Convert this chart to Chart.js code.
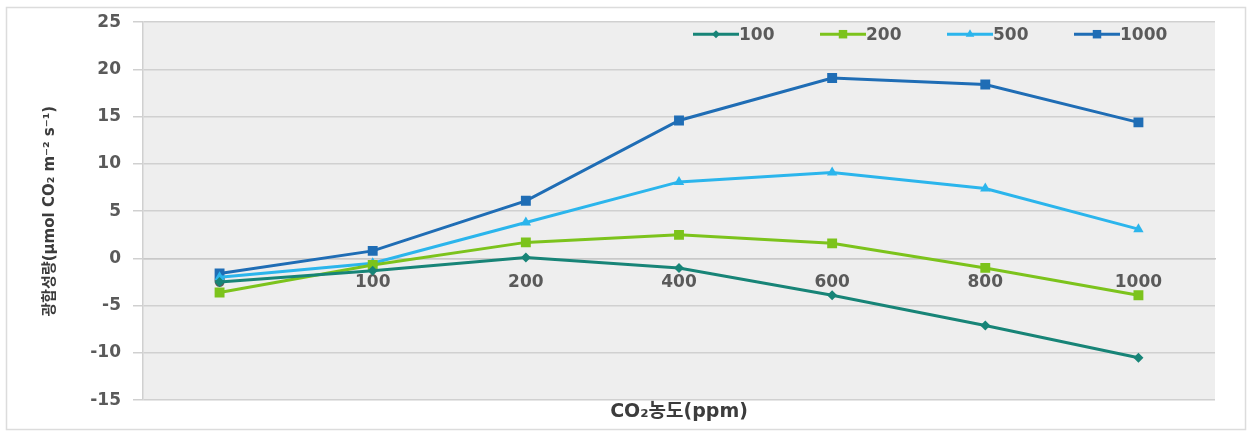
<!DOCTYPE html>
<html>
<head>
<meta charset="utf-8">
<script src="https://cdn.jsdelivr.net/npm/chart.js@4"></script>
<style>
	html, body { margin: 0; padding: 0; background: #fff; }
	#wrap { width: 1251px; height: 434px; }
</style>
</head>
<body>
<div id="wrap"><canvas id="chart" width="1251" height="434"></canvas></div>
<script>
'use strict';
const categories = ['0', '100', '200', '400', '600', '800', '1000'];
const seriesNames = ['100', '200', '500', '1000'];
const s100 = [-2.5, -1.3, 0.1, -1.0, -3.9, -7.1, -10.5];
const s200 = [-3.6, -0.7, 1.7, 2.5, 1.6, -1.0, -3.9];
const s500 = [-2.0, -0.5, 3.8, 8.1, 9.1, 7.4, 3.1];
const s1000 = [-1.6, 0.8, 6.1, 14.6, 19.1, 18.4, 14.4];
const yTicks = [-15, -10, -5, 0, 5, 10, 15, 20, 25];

const colors = ['#178477', '#7cc31c', '#2bb5ec', '#1f6db5'];
const styles = ['rectRot', 'rect', 'triangle', 'rect'];
const radii = [5, 7, 6, 7];
const tickFont = { family: 'DejaVu Sans', size: 17, weight: 'bold' };

function makeDataset(i, data) {
	return {
		label: seriesNames[i],
		data: data,
		borderColor: colors[i],
		backgroundColor: colors[i],
		borderWidth: 3,
		pointStyle: styles[i],
		pointRadius: radii[i],
		pointBorderWidth: 0,
		tension: 0
	};
}

// white page, border, grey plot area
const backdrop = {
	id: 'backdrop',
	beforeDraw(chart) {
		const { ctx, chartArea: a } = chart;
		ctx.save();
		ctx.fillStyle = '#ffffff';
		ctx.fillRect(0, 0, chart.width, chart.height);
		ctx.strokeStyle = '#dcdcdc';
		ctx.lineWidth = 1.5;
		ctx.strokeRect(6.5, 7.5, chart.width - 12, chart.height - 12);
		ctx.fillStyle = '#eeeeee';
		ctx.fillRect(a.left, a.top, a.right - a.left, a.bottom - a.top);
		ctx.restore();
	}
};

// legend with line + marker inside the plot, top right
const innerLegend = {
	id: 'innerLegend',
	afterDatasetsDraw(chart) {
		const { ctx, chartArea: a } = chart;
		const y = a.top + 12;
		let x = a.right - 522;
		ctx.save();
		chart.data.datasets.forEach((ds, i) => {
			ctx.strokeStyle = ds.borderColor;
			ctx.lineWidth = 3;
			ctx.beginPath();
			ctx.moveTo(x, y);
			ctx.lineTo(x + 46, y);
			ctx.stroke();
			ctx.fillStyle = ds.backgroundColor;
			Chart.helpers.drawPoint(ctx, { pointStyle: ds.pointStyle, radius: ds.pointRadius - 1, borderWidth: 0 }, x + 23, y);
			ctx.fillStyle = '#5a5a5a';
			ctx.font = 'bold 17px "DejaVu Sans"';
			ctx.textBaseline = 'middle';
			ctx.textAlign = 'left';
			ctx.fillText(ds.label, x + 46, y + 1);
			x += 127;
		});
		ctx.restore();
	}
};

new Chart(document.getElementById('chart'), {
	type: 'line',
	data: {
		labels: categories,
		datasets: [
			makeDataset(0, s100),
			makeDataset(1, s200),
			makeDataset(2, s500),
			makeDataset(3, s1000)
		]
	},
	options: {
		responsive: false,
		animation: false,
		layout: { padding: { left: 0, right: 36, top: 22, bottom: 10 } },
		plugins: {
			legend: { display: false },
			tooltip: { enabled: false }
		},
		scales: {
			x: {
				type: 'category',
				position: { y: 0 },
				offset: true,
				grid: { display: false, drawTicks: false },
				border: { display: true, color: '#c8c8c8', width: 1.5 },
				ticks: { color: '#5a5a5a', font: tickFont, padding: 14, maxRotation: 0 }
			},
			x2: {
				type: 'category',
				labels: categories,
				position: 'bottom',
				grid: { display: false, drawTicks: false },
				border: { display: false },
				ticks: { display: false },
				title: {
					display: true,
					text: 'CO₂농도(ppm)',
					color: '#3c3c3c',
					font: { family: "'DejaVu Sans', 'Noto Sans CJK KR'", size: 19, weight: 'bold' },
					padding: { top: 0, bottom: 1 }
				}
			},
			y: {
				min: -15,
				max: 25,
				afterBuildTicks(scale) { scale.ticks = yTicks.map(v => ({ value: v })); },
				afterFit(scale) { scale.width = 143; },
				grid: { color: '#d0d0d0', lineWidth: 1.5, tickLength: 10 },
				border: { display: true, color: '#d0d0d0', width: 1.5 },
				ticks: { color: '#5a5a5a', font: tickFont, padding: 12 },
				title: {
					display: true,
					text: '광합성량(μmol CO₂ m⁻² s⁻¹)',
					color: '#3c3c3c',
					font: { family: "'DejaVu Sans', 'Noto Sans CJK KR'", size: 15, weight: 'bold' },
					padding: { top: 41, bottom: 0 }
				}
			}
		}
	},
	plugins: [backdrop, innerLegend]
});
</script>
</body>
</html>
